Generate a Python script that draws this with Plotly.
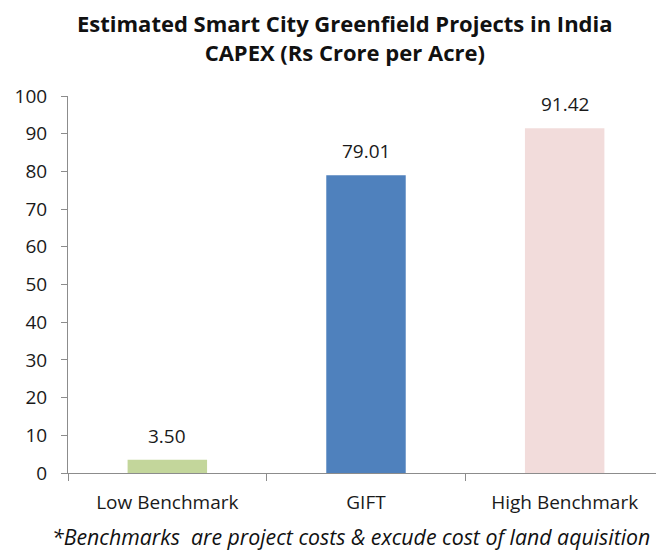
import plotly.graph_objects as go

categories = ["Low Benchmark", "GIFT", "High Benchmark"]
capex = [3.50, 79.01, 91.42]
bar_colors = ["#C3D69B", "#4F81BD", "#F2DCDB"]

FONT = "Open Sans"
AXIS_GRAY = "#8C8C8C"
TEXT = "#1a1a1a"

# plot area in figure pixels (page adds 8px body margin)
L, T, R, B = 60, 88, 656, 465


def px_to_paper(fx, fy):
    return (fx - L) / (R - L), (B - fy) / (B - T)


fig = go.Figure(
    go.Bar(
        x=categories,
        y=capex,
        marker_color=bar_colors,
        marker_line_width=0,
    )
)

# value labels sit a little above each bar
value_labels = [
    dict(
        x=cat,
        y=val,
        xref="x",
        yref="y",
        text=f"{val:.2f}",
        showarrow=False,
        yanchor="bottom",
        yshift=9,
        font=dict(family=FONT, size=19, color=TEXT),
    )
    for cat, val in zip(categories, capex)
]

title_x, title_y = px_to_paper(337, 29.5)
note_x, note_y = px_to_paper(343, 528)

fig.update_layout(
    width=664,
    height=552,
    paper_bgcolor="white",
    plot_bgcolor="white",
    showlegend=False,
    bargap=0.6,
    margin=dict(l=L, r=664 - R, t=T, b=552 - B),
    font=dict(family=FONT, size=19, color=TEXT),
    annotations=value_labels + [
        dict(
            text="<b>Estimated Smart City Greenfield Projects in India<br>CAPEX (Rs Crore per Acre)</b>",
            xref="paper",
            yref="paper",
            x=title_x,
            y=title_y,
            xanchor="center",
            yanchor="middle",
            showarrow=False,
            font=dict(family=FONT, size=22, color="#111111"),
        ),
        dict(
            text="<i>*Benchmarks  are project costs &amp; excude cost of land aquisition</i>",
            xref="paper",
            yref="paper",
            x=note_x,
            y=note_y,
            xanchor="center",
            yanchor="middle",
            showarrow=False,
            font=dict(family=FONT, size=21.3, color="#111111"),
        ),
    ],
)

fig.update_xaxes(
    range=[-0.5, 2.5],
    showline=True,
    linecolor=AXIS_GRAY,
    linewidth=1,
    ticks="outside",
    tickson="boundaries",
    ticklen=7,
    tickcolor=AXIS_GRAY,
    showgrid=False,
    ticklabelstandoff=12,
    tickfont=dict(family=FONT, size=19, color=TEXT),
)

fig.update_yaxes(
    range=[0, 100],
    dtick=10,
    showline=True,
    linecolor=AXIS_GRAY,
    linewidth=1,
    ticks="outside",
    ticklen=6,
    tickcolor=AXIS_GRAY,
    showgrid=False,
    zeroline=False,
    ticklabelstandoff=10,
    tickfont=dict(family=FONT, size=19, color=TEXT),
)

fig.write_html("out.html")
